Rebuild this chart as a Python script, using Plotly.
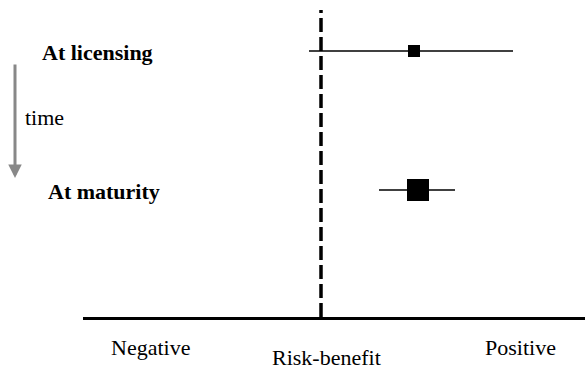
import plotly.graph_objects as go

# Data
stages = ["At licensing", "At maturity"]
row_pos = [2, 1]
estimates = [0.93, 0.97]
lower = [-0.12, 0.58]
upper = [1.92, 1.34]
precision_size = [12, 22]  # marker size reflects precision
axis_labels = ["Negative", "Positive"]
axis_label_pos = [-1.71, 1.99]
x_title = "Risk-benefit"
time_label = "time"

FONT = "Liberation Serif, Times New Roman, serif"

L, W = 83, 502  # plot left margin and width in px


def px_to_paper(px):
    return (px - L) / W


fig = go.Figure()
fig.add_trace(go.Scatter(
    x=estimates, y=row_pos, mode="markers",
    marker=dict(symbol="square", size=precision_size, color="#000000",
                opacity=1, line=dict(width=0)),
    error_x=dict(type="data", symmetric=False,
                 array=[u - e for u, e in zip(upper, estimates)],
                 arrayminus=[e - l for e, l in zip(estimates, lower)],
                 color="#000000", thickness=1.6, width=0),
    showlegend=False, hoverinfo="skip", cliponaxis=False,
))

# Null line
fig.add_shape(type="line", xref="x", yref="paper", x0=0, x1=0, y0=0, y1=1,
              line=dict(color="black", width=3.5, dash="14px,5px"))

annotations = []
for s, ypaper, xl in zip(stages, [(317 - 53) / 307, (317 - 191) / 307], [40, 46]):
    annotations.append(dict(x=px_to_paper(xl), y=ypaper, xref="paper", yref="paper",
                            text="<b>%s</b>" % s,
                            showarrow=False, xanchor="left", yanchor="middle",
                            font=dict(family=FONT, size=22, color="black")))
for t, xp in zip(axis_labels, axis_label_pos):
    annotations.append(dict(x=xp, y=(317 - 347) / 307, xref="x", yref="paper", text=t,
                            showarrow=False, xanchor="center", yanchor="middle",
                            font=dict(family=FONT, size=22, color="black")))
annotations.append(dict(x=0.05, y=0, xref="x", yref="paper", text=x_title,
                        showarrow=False, xanchor="center", yanchor="bottom",
                        yshift=-55,
                        font=dict(family=FONT, size=22, color="black")))
annotations.append(dict(x=px_to_paper(23), y=0.651, xref="paper", yref="paper",
                        text=time_label,
                        showarrow=False, xanchor="left", yanchor="middle",
                        font=dict(family=FONT, size=22, color="black")))
# time arrow
annotations.append(dict(x=px_to_paper(15), y=(317 - 178) / 307, xref="paper", yref="paper",
                        text="", showarrow=True, ax=0, ay=-115,
                        arrowhead=2, arrowsize=0.9, arrowwidth=3,
                        arrowcolor="#888888", standoff=0))

fig.update_layout(
    width=585, height=372,
    margin=dict(l=L, r=0, t=10, b=55),
    paper_bgcolor="white", plot_bgcolor="white",
    xaxis=dict(range=[-2.38, 2.64], showgrid=False, zeroline=False,
               showticklabels=False, ticks="", showline=True,
               linecolor="black", linewidth=3),
    yaxis=dict(range=[0.086, 2.295], showgrid=False, zeroline=False,
               showticklabels=False, ticks="", showline=False),
    annotations=annotations,
)

fig.write_html("out.html", config={"displayModeBar": False},
               post_script="document.body.style.margin='0';document.body.style.overflow='hidden';")
